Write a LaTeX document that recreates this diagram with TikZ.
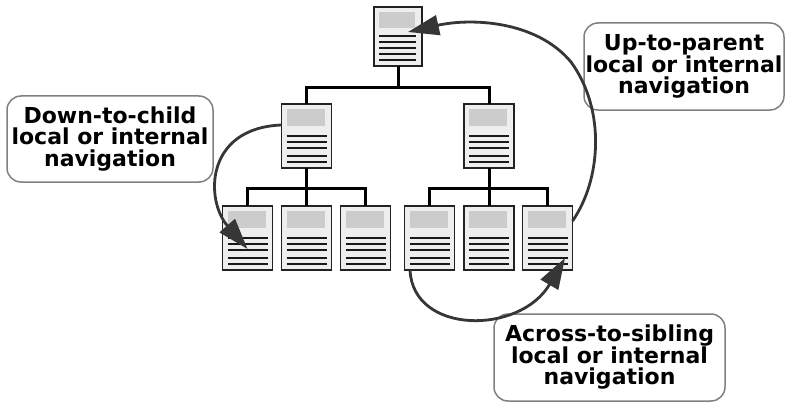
\documentclass[tikz,border=0pt]{standalone}
\usepackage{fontspec}
\setmainfont{DejaVu Sans}
\usetikzlibrary{arrows.meta,calc}
\definecolor{docborder}{HTML}{222222}
\definecolor{docfill}{HTML}{EEEEEE}
\definecolor{docbar}{HTML}{CCCCCC}
\definecolor{navcol}{HTML}{363636}
\definecolor{boxborder}{HTML}{808080}
\tikzset{
  docbox/.style={draw=docborder, fill=docfill, line width=1.8pt, inner sep=0pt, outer sep=0pt,
    minimum width=50pt, minimum height=64pt},
  rootbox/.style={docbox, minimum width=48pt, minimum height=59pt},
  docline/.style={draw=black!90, line width=1.7pt},
  tree/.style={draw=black, line width=3pt},
  nav/.style={draw=navcol, line width=2.8pt, -{Triangle[length=31pt,width=20pt]}},
  callout/.style={draw=boxborder, fill=white, line width=1.5pt, rounded corners=14pt,
    align=center, inner sep=0pt,
    font=\fontsize{22pt}{21.5pt}\bfseries\selectfont}
}
\newcommand\leafdoc[3]{%
  \node[docbox] (#1) at (#2,#3) {};
  \fill[docbar] ([shift={(5pt,-5pt)}]#1.north west) rectangle ([shift={(-7pt,-22pt)}]#1.north east);
  \foreach \d in {32pt,38pt,44pt,52pt,58pt}
    \draw[docline] ([shift={(5pt,-\d)}]#1.north west) -- ([shift={(-5pt,-\d)}]#1.north east);
}
\begin{document}
\begin{tikzpicture}[x=1pt,y=-1pt]
\useasboundingbox[fill=white] (0,0) rectangle (785,404);

% root document
\node[rootbox] (root) at (398,36.5) {};
\fill[docbar] ([shift={(5pt,-5pt)}]root.north west) rectangle ([shift={(-7pt,-21pt)}]root.north east);
\foreach \d in {29pt,35pt,41pt,47pt,53pt}
  \draw[docline] ([shift={(5pt,-\d)}]root.north west) -- ([shift={(-6pt,-\d)}]root.north east);

% second level
\leafdoc{m1}{306.5}{136}
\leafdoc{m2}{489}{136}

% leaves
\leafdoc{l1}{247.5}{238}
\leafdoc{l2}{306.5}{238}
\leafdoc{l3}{365.5}{238}
\leafdoc{l4}{429.5}{238}
\leafdoc{l5}{489}{238}
\leafdoc{l6}{547.5}{238}

% tree connectors
\coordinate (j0) at (398,88);
\draw[tree] (root.south) -- (j0);
\draw[tree] (m1.north) |- (j0) -| (m2.north);
\coordinate (j1) at (306.5,188);
\draw[tree] (m1.south) -- (j1);
\draw[tree] (l1.north) |- (j1) -| (l3.north);
\draw[tree] (j1) -- (l2.north);
\coordinate (j2) at (489,188);
\draw[tree] (m2.south) -- (j2);
\draw[tree] (l4.north) |- (j2) -| (l6.north);
\draw[tree] (j2) -- (l5.north);

% callouts
\node[callout, minimum width=206pt, minimum height=86pt] (down) at (110,139)
  {Down-to-child\\local or internal\\navigation};
\node[callout, minimum width=200pt, minimum height=87pt] (up) at (684,66.5)
  {Up-to-parent\\local or internal\\navigation};
\node[callout, minimum width=231pt, minimum height=87pt] (across) at (609.5,357.5)
  {Across-to-sibling\\local or internal\\navigation};

% navigation arrows
\draw[nav] ([yshift=11pt]m1.west) .. controls (205,128) and (205,200) .. ([yshift=-11pt]l1.center);
\draw[nav] ([yshift=17pt]l6.east) .. controls (601,180) and (606,110) .. (571,62)
  .. controls (536,20) and (470,18) .. ([shift={(10pt,4.5pt)}]root.center);
\draw[nav] ([xshift=-19.5pt]l4.south) .. controls (413,335) and (520,335) .. ([shift={(17.5pt,-20pt)}]l6.center);
\end{tikzpicture}
\end{document}
